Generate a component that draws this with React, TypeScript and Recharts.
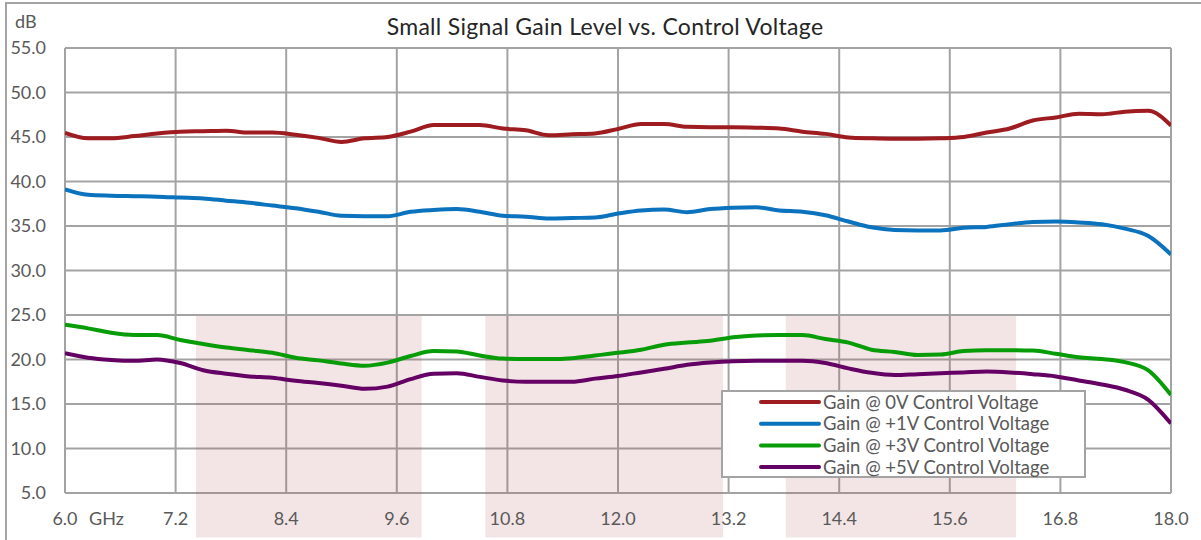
import { LineChart, Line, XAxis, YAxis, CartesianGrid, ReferenceArea, Legend } from "recharts";

// frequency points (GHz)
const freqGHz = [
  6.0, 6.25, 6.5, 6.75, 7.0, 7.25, 7.5, 7.75, 8.0, 8.25, 8.5, 8.75, 9.0, 9.25, 9.5, 9.75,
  10.0, 10.25, 10.5, 10.75, 11.0, 11.25, 11.5, 11.75, 12.0, 12.25, 12.5, 12.75, 13.0, 13.25,
  13.5, 13.75, 14.0, 14.25, 14.5, 14.75, 15.0, 15.25, 15.5, 15.75, 16.0, 16.25, 16.5, 16.75,
  17.0, 17.25, 17.5, 17.75, 18.0,
];

const gain0V = [
  45.45, 44.85, 44.85, 45.1, 45.4, 45.6, 45.65, 45.7, 45.5, 45.5, 45.25, 44.9, 44.45, 44.85, 45.0, 45.6,
  46.35, 46.35, 46.35, 45.95, 45.75, 45.2, 45.3, 45.4, 45.9, 46.45, 46.45, 46.15, 46.1, 46.1,
  46.05, 45.95, 45.6, 45.35, 44.95, 44.85, 44.8, 44.8, 44.85, 45.0, 45.5, 45.95, 46.85, 47.2,
  47.6, 47.55, 47.85, 47.95, 46.3,
];

const gain1V = [
  39.1, 38.5, 38.4, 38.35, 38.3, 38.2, 38.1, 37.85, 37.6, 37.3, 37.0, 36.6, 36.15, 36.1, 36.1, 36.6,
  36.8, 36.9, 36.6, 36.15, 36.05, 35.85, 35.9, 35.95, 36.4, 36.75, 36.85, 36.55, 36.9, 37.05,
  37.1, 36.75, 36.6, 36.2, 35.5, 34.85, 34.55, 34.5, 34.5, 34.8, 34.9, 35.2, 35.45, 35.5,
  35.4, 35.2, 34.7, 33.9, 31.8,
];

const gain3V = [
  23.9, 23.5, 23.0, 22.75, 22.75, 22.2, 21.75, 21.35, 21.05, 20.75, 20.2, 19.9, 19.55, 19.3, 19.65, 20.4,
  20.95, 20.9, 20.45, 20.1, 20.05, 20.05, 20.15, 20.45, 20.75, 21.1, 21.65, 21.9, 22.1, 22.5,
  22.7, 22.75, 22.75, 22.3, 21.9, 21.1, 20.85, 20.5, 20.55, 20.95, 21.05, 21.05, 21.0, 20.65,
  20.25, 20.05, 19.7, 18.8, 16.0,
];

const gain5V = [
  20.7, 20.2, 19.95, 19.85, 20.0, 19.6, 18.8, 18.4, 18.1, 17.95, 17.6, 17.35, 17.05, 16.7, 16.95, 17.8,
  18.4, 18.45, 18.05, 17.65, 17.5, 17.5, 17.5, 17.85, 18.15, 18.55, 18.95, 19.4, 19.65, 19.8,
  19.85, 19.85, 19.85, 19.6, 19.0, 18.5, 18.25, 18.35, 18.45, 18.55, 18.65, 18.55, 18.35, 18.1,
  17.65, 17.2, 16.6, 15.5, 12.8,
];

const xTicks = [6.0, 7.2, 8.4, 9.6, 10.8, 12.0, 13.2, 14.4, 15.6, 16.8, 18.0];
const yTicks = [5, 10, 15, 20, 25, 30, 35, 40, 45, 50, 55];

// shaded bands (GHz start / end)
const bandStart = [7.42, 10.56, 13.82];
const bandEnd = [9.87, 13.14, 16.32];

const seriesNames = [
  "Gain @ 0V Control Voltage",
  "Gain @ +1V Control Voltage",
  "Gain @ +3V Control Voltage",
  "Gain @ +5V Control Voltage",
];
const seriesKeys = ["g0", "g1", "g3", "g5"];
const COLORS = ["#9e1b20", "#0b72bd", "#089c08", "#640064"];

const data = freqGHz.map((f, i) => ({
  f,
  g0: gain0V[i],
  g1: gain1V[i],
  g3: gain3V[i],
  g5: gain5V[i],
}));

const FONT = "Lato, 'Open Sans', sans-serif";
const TEXT = "#595959";
const GRID = "#a3a3a3";

const XTick = (props: any) => {
  const { x, y, payload, index } = props;
  return (
    <g>
      <text x={x} y={y} dy="0.71em" textAnchor="middle" fill={TEXT} fontSize={18} fontFamily={FONT}>
        {Number(payload.value).toFixed(1)}
      </text>
      {index === 0 && (
        <text x={x + 24} y={y} dy="0.71em" textAnchor="start" fill={TEXT} fontSize={18} fontFamily={FONT}>
          GHz
        </text>
      )}
    </g>
  );
};

const LegendBox = () => (
  <div
    style={{
      width: 365,
      height: 88,
      boxSizing: "border-box",
      background: "#fff",
      border: `2px solid ${GRID}`,
    }}
  >
    <svg width={361} height={84} style={{ overflow: "visible" }}>
      {seriesNames.map((name, i) => (
        <g key={name}>
          <line x1={38} x2={96} y1={10 + i * 21.7} y2={10 + i * 21.7} stroke={COLORS[i]} strokeWidth={4} strokeLinecap="round" />
          <text x={100} y={10 + i * 21.7} dy="0.36em" fill={TEXT} fontSize={18.5} fontFamily={FONT}>
            {name}
          </text>
        </g>
      ))}
    </svg>
  </div>
);

export default function App() {
  return (
    <div
      style={{
        position: "absolute",
        left: 0,
        top: 0,
        width: 1201,
        height: 540,
        overflow: "hidden",
        background: "#fff",
      }}
    >
      <div
        style={{
          position: "absolute",
          left: 5,
          top: 2,
          width: 1210,
          height: 560,
          border: `2px solid ${GRID}`,
          boxSizing: "border-box",
        }}
      />
      <div
        style={{
          position: "absolute",
          left: 0,
          top: 12,
          width: 1210,
          textAlign: "center",
          fontFamily: FONT,
          fontSize: 23,
          letterSpacing: 0.3,
          lineHeight: "28px",
          color: "#262626",
        }}
      >
        Small Signal Gain Level vs. Control Voltage
      </div>
      <div
        style={{
          position: "absolute",
          left: 15,
          top: 10,
          fontFamily: FONT,
          fontSize: 18,
          lineHeight: "22px",
          color: TEXT,
        }}
      >
        dB
      </div>
      <div style={{ position: "absolute", left: 0, top: 0 }}>
        <LineChart width={1201} height={540} data={data} margin={{ top: 48, right: 30, bottom: 7, left: 0 }}>
          <CartesianGrid stroke={GRID} strokeWidth={2} />
          {bandStart.map((s, i) => (
            <ReferenceArea
              key={i}
              x1={s}
              x2={bandEnd[i]}
              y1={0}
              y2={24.9}
              ifOverflow="visible"
              fill="#b05050"
              fillOpacity={0.15}
              stroke="none"
            />
          ))}
          <XAxis
            dataKey="f"
            type="number"
            domain={[6, 18]}
            ticks={xTicks}
            allowDataOverflow
            axisLine={false}
            tickLine={false}
            tickSize={0}
            tickMargin={19}
            height={40}
            tick={<XTick />}
            interval={0}
          />
          <YAxis
            type="number"
            domain={[5, 55]}
            ticks={yTicks}
            allowDataOverflow
            axisLine={false}
            tickLine={false}
            tickSize={0}
            tickMargin={19}
            width={65}
            interval={0}
            tickFormatter={(v: number) => v.toFixed(1)}
            tick={{ fill: TEXT, fontSize: 18, fontFamily: FONT }}
          />
          {seriesKeys.map((k, i) => (
            <Line
              key={k}
              dataKey={k}
              name={seriesNames[i]}
              type="monotone"
              stroke={COLORS[i]}
              strokeWidth={4}
              dot={false}
              activeDot={false}
              isAnimationActive={false}
            />
          ))}
          <Legend
            layout="vertical"
            align="center"
            verticalAlign="middle"
            content={<LegendBox />}
            wrapperStyle={{ left: 721, top: 390, width: 365, height: 88 }}
          />
        </LineChart>
      </div>
    </div>
  );
}
